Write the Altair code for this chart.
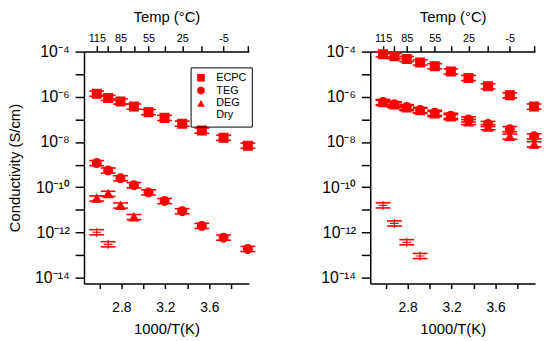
import altair as alt
import pandas as pd

# x positions (1000/T in K^-1), one per measured temperature
x_vals = [2.576, 2.680, 2.792, 2.914, 3.047, 3.193, 3.354, 3.532, 3.730, 3.951]
series_names = ["ECPC", "TEG", "DEG", "Dry"]

# Left panel conductivities (S/cm)
left_ecpc = [1.38e-6, 8.9e-7, 6.2e-7, 3.7e-7, 2.1e-7, 1.17e-7, 6.5e-8, 3.2e-8, 1.55e-8, 6.9e-9]
left_teg = [1.17e-9, 5.5e-10, 2.5e-10, 1.23e-10, 5.9e-11, 2.45e-11, 8.7e-12, 1.95e-12, 5.9e-13, 1.86e-13]
left_deg = [3.2e-11, 5.1e-11, 1.55e-11, 4.8e-12]
left_dry = [1.02e-12, 3.0e-13]

# Right panel conductivities (S/cm)
right_ecpc = [7.6e-5, 6.3e-5, 4.7e-5, 3.3e-5, 2.24e-5, 1.32e-5, 6.8e-6, 2.9e-6, 1.17e-6, 3.7e-7]
right_teg = [5.9e-7, 4.7e-7, 3.5e-7, 2.6e-7, 1.95e-7, 1.45e-7, 1.0e-7, 6.3e-8, 3.7e-8, 1.78e-8]
right_deg = [5.4e-7, 4.3e-7, 3.2e-7, 2.4e-7, 1.74e-7, 1.26e-7, 7.6e-8, 4.5e-8, 1.74e-8, 7.9e-9]
right_dry = [1.58e-11, 2.5e-12, 3.7e-13, 9.1e-14]

# Axis tick labels
temp_ticks_c = [115, 100, 85, 70, 55, 40, 25, 10, -5, -20]
bottom_ticks = [2.6, 2.8, 3.0, 3.2, 3.4, 3.6, 3.8]
y_ticks = [1e-4, 1e-5, 1e-6, 1e-7, 1e-8, 1e-9, 1e-10, 1e-11, 1e-12, 1e-13, 1e-14]
y_labels = ["10⁻⁴", "", "10⁻⁶", "", "10⁻⁸", "", "10⁻¹⁰", "", "10⁻¹²", "", "10⁻¹⁴"]


def frame(groups):
    rows = []
    for name, vals in zip(series_names, groups):
        for xv, yv in zip(x_vals, vals):
            rows.append({"x": xv, "y": yv, "series": name})
    return pd.DataFrame(rows)


RED = "#ff0000"
FONT = "Liberation Sans"
top_tick_vals = [1000.0 / (t + 273.15) for t in temp_ticks_c]
xscale = alt.Scale(domain=[2.46, 3.96], nice=False, zero=False)
yscale = alt.Scale(type="log", domain=[10 ** -14.26, 1e-4], nice=False)
shape_scale = alt.Scale(domain=series_names,
                        range=["square", "circle", "triangle-up", "M-1,0L1,0M0,-1L0,1"])

y_label_expr = "[" + ",".join("'%s'" % s for s in y_labels) + "][round(-log(datum.value)/LN10)-4]"
top_label_expr = "(round(1000/datum.value-273.15)+5) % 30 == 0 ? '' + round(1000/datum.value-273.15) : ''"
bottom_label_expr = "round(datum.value*10) % 4 == 0 ? format(datum.value, '.1f') : ''"


def panel(df, first):
    base = alt.Chart(df)
    ytitle = "Conductivity (S/cm)" if first else ""
    yaxis = alt.Axis(values=y_ticks, labelExpr=y_label_expr, labelFontSize=16,
                     title=ytitle, titlePadding=12, tickSize=9, labelPadding=6,
                     orient="left", domain=True, ticks=True, labels=True)
    if first:
        legend = alt.Legend(title=None, orient="none", legendX=108, legendY=16,
                            strokeColor="black", padding=5, labelFontSize=11, labelFont=FONT,
                            symbolFillColor=RED, symbolStrokeColor=RED, symbolStrokeWidth=1,
                            symbolOpacity=1, symbolSize=60, rowPadding=0, labelOffset=10,
                            labelLimit=60)
        shape = alt.Shape("series:N", scale=shape_scale, legend=legend)
    else:
        shape = alt.Shape("series:N", scale=shape_scale, legend=None)
    pts = base.mark_point(filled=True, fill=RED, stroke=RED, strokeWidth=1.2, opacity=1, size=80).encode(
        x=alt.X("x:Q", scale=xscale,
                axis=alt.Axis(orient="bottom", values=bottom_ticks, labelExpr=bottom_label_expr,
                              title="1000/T(K)", labelFontSize=14, tickSize=5, labelPadding=12,
                              titlePadding=8)),
        y=alt.Y("y:Q", scale=yscale, axis=yaxis),
        shape=shape,
    )
    hi = base.transform_calculate(hi="datum.y*1.3").mark_tick(
        orient="horizontal", color=RED, size=15, thickness=1.6, opacity=1).encode(
        x=alt.X("x:Q", scale=xscale, axis=None),
        y=alt.Y("hi:Q", scale=yscale, axis=yaxis),
    )
    lo = base.transform_calculate(lo="datum.y/1.3").mark_tick(
        orient="horizontal", color=RED, size=15, thickness=1.6, opacity=1).encode(
        x=alt.X("x:Q", scale=xscale, axis=None),
        y=alt.Y("lo:Q", scale=yscale, axis=yaxis),
    )
    top = base.mark_point(opacity=0).encode(
        x=alt.X("x:Q", scale=xscale,
                axis=alt.Axis(orient="top", values=top_tick_vals, labelExpr=top_label_expr,
                              title="Temp (°C)", labelFontSize=11, tickSize=6, labelPadding=2,
                              titlePadding=8)),
        y=alt.Y("y:Q", scale=yscale, axis=yaxis),
    )
    return alt.layer(pts, hi, lo, top).resolve_axis(x="independent").properties(width=167, height=235)


left = panel(frame([left_ecpc, left_teg, left_deg, left_dry]), True)
right = panel(frame([right_ecpc, right_teg, right_deg, right_dry]), False)

chart = alt.hconcat(left, right, spacing=66).properties(
    padding={"left": 0, "top": 0, "right": 0, "bottom": 0}
).configure_view(stroke=None).configure_axis(
    domainColor="black", tickColor="black", domainWidth=1.5, tickWidth=1.5,
    labelColor="black", titleColor="black", labelFont=FONT, titleFont=FONT,
    titleFontSize=15, titleFontWeight="normal", grid=False,
)

chart.save("out.html", embed_options={"renderer": "svg", "actions": False})
